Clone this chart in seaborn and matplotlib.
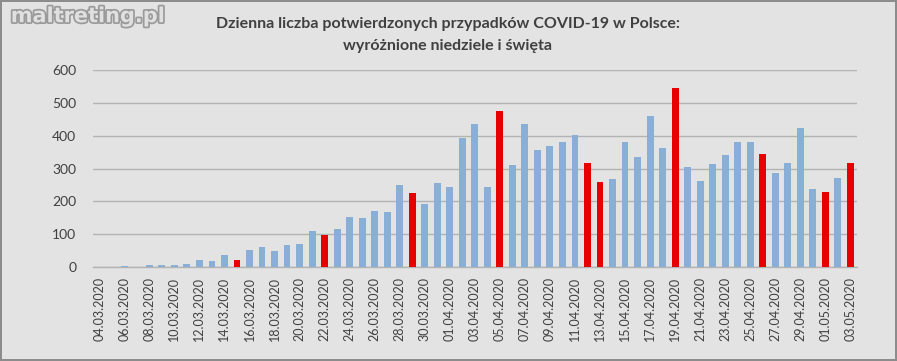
import pandas as pd
import matplotlib.pyplot as plt
import matplotlib.patheffects as pe
import seaborn as sns

# Daily confirmed cases, 04.03.2020 - 03.05.2020
dates = pd.date_range("2020-03-04", "2020-05-03", freq="D").strftime("%d.%m.%Y").tolist()
cases = [1, 0, 4, 1, 5, 6, 5, 9, 20, 17,
         36, 21, 52, 61, 49, 68, 70, 111, 98, 115,
         152, 150, 170, 168, 249, 224, 193, 256,
         243, 392, 437, 244, 475, 311, 435, 357, 370, 380,
         401, 318, 260, 268, 380, 336, 461, 363, 545, 306,
         263, 313, 342, 381, 381, 344, 285, 316, 422, 237,
         228, 270, 318]
# Sundays and holidays shown in red
highlighted = ["15.03.2020", "22.03.2020", "29.03.2020", "05.04.2020", "12.04.2020",
               "13.04.2020", "19.04.2020", "26.04.2020", "01.05.2020", "03.05.2020"]

df = pd.DataFrame({"Data": dates, "Przypadki": cases})
df["Typ"] = ["swieto" if d in highlighted else "zwykly" for d in df["Data"]]

sns.set_style("white")
plt.rcParams["font.family"] = ["Lato", "DejaVu Sans"]

bg = "#e3e3e3"
fig = plt.figure(figsize=(8.97, 3.61), dpi=100, facecolor=bg)
ax = fig.add_axes([0.1037, 0.2604, 0.8513, 0.5456])
ax.set_facecolor("none")

sns.barplot(data=df, x="Data", y="Przypadki", hue="Typ", order=dates,
            palette={"zwykly": "#8aafd6", "swieto": "#e60000"},
            saturation=1, linewidth=0, edgecolor="none",
            dodge=False, width=0.55, legend=False, ax=ax, zorder=3)

ax.set_ylim(0, 600)
ax.set_xlim(-0.5, len(dates) - 0.5)
ax.set_yticks(range(0, 601, 100))
ax.yaxis.grid(True, color="#b3b3b3", linewidth=1, zorder=0)
ax.set_axisbelow(True)
for s in ["top", "right", "left"]:
    ax.spines[s].set_visible(False)
ax.spines["bottom"].set_color("#b3b3b3")
ax.spines["bottom"].set_linewidth(1)
ax.set_xlabel("")
ax.set_ylabel("")

ax.set_xticks(range(0, len(dates), 2))
ax.set_xticklabels(dates[::2], rotation=90, fontsize=9, color="#404040")
ax.set_xticks([i - 0.5 for i in range(0, len(dates) + 1, 2)], minor=True)
ax.tick_params(axis="x", which="major", length=0, pad=7)
ax.tick_params(axis="x", which="minor", length=4, color="#a0a0a0", width=1)
ax.tick_params(axis="y", length=0, labelsize=10, labelcolor="#404040", pad=12)

fig.text(0.4994, 0.934, "Dzienna liczba potwierdzonych przypadków COVID-19 w Polsce:",
         ha="center", va="center", fontsize=11.5, fontweight="bold", color="#404040")
fig.text(0.4994, 0.873, "wyróżnione niedziele i święta",
         ha="center", va="center", fontsize=11.5, fontweight="bold", color="#404040")

fig.text(0.012, 0.955, "maltreting.pl", ha="left", va="center", fontsize=15,
         fontweight="heavy", color="#e0e0e0", family=["DejaVu Sans"],
         path_effects=[pe.withStroke(linewidth=2.5, foreground="#9a9a9a")])

fig.patch.set_edgecolor("#8c8c8c")
fig.patch.set_linewidth(1.5)

fig.savefig("out.png", dpi=100, facecolor=fig.get_facecolor(), edgecolor=fig.get_edgecolor())
